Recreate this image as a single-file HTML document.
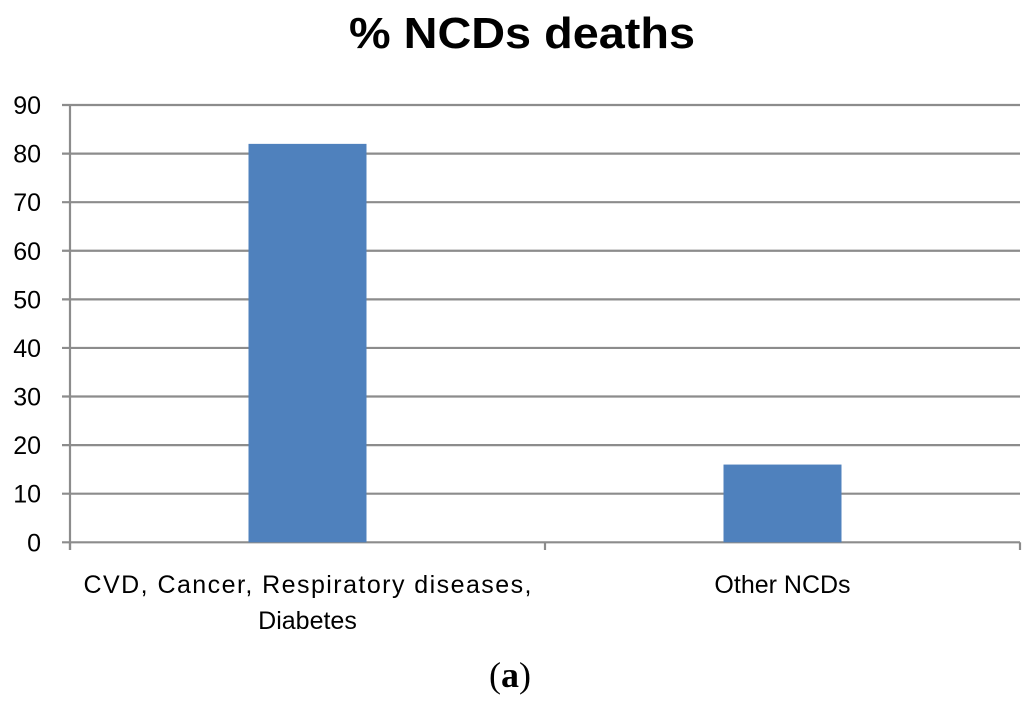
<!DOCTYPE html>
<html><head><meta charset="utf-8"><style>
body{margin:0;background:#fff;width:1024px;height:702px;overflow:hidden}
svg text{font-family:"Liberation Sans",sans-serif;fill:#000}
</style></head><body>
<svg width="1024" height="702">
<text x="522" y="48" text-anchor="middle" font-size="44" font-weight="bold" textLength="346" lengthAdjust="spacingAndGlyphs">% NCDs deaths</text>
<g id="grid"></g>
<g id="bars"></g>
<g id="axes"></g>
<text x="510" y="687" text-anchor="middle" font-size="36" style="font-family:'Liberation Serif',serif">(<tspan font-weight="bold">a</tspan>)</text>
</svg>
<script>
const categories=[["CVD, Cancer, Respiratory diseases,","Diabetes"],["Other NCDs"]];
const values=[82,16];
const yTicks=[0,10,20,30,40,50,60,70,80,90];
const ns="http://www.w3.org/2000/svg";
const x0=70,x1=1020,yBase=542.3,yTop=105;
const y=v=>yBase-(v/90)*(yBase-yTop);
const bandW=(x1-x0)/categories.length;
const xc=i=>x0+bandW*(i+0.5);
function mk(t,a,p){const e=document.createElementNS(ns,t);for(const k in a)e.setAttribute(k,a[k]);p.appendChild(e);return e;}
const grid=document.getElementById('grid'),bars=document.getElementById('bars'),axes=document.getElementById('axes');
yTicks.forEach(t=>{
 const l=mk('line',{x1:62,x2:x1,y1:y(t),y2:y(t),stroke:'#8c8c8c','stroke-width':2.2},grid);
 
 
 const tx=mk('text',{x:41,y:y(t)+9,'text-anchor':'end','font-size':25},axes);
 tx.textContent=t;
 
 
});
values.forEach((v,i)=>{
 const r=mk('rect',{x:xc(i)-59,y:y(v),width:118,height:yBase-y(v),fill:'#4f81bd'},bars);
 
 
});
const ax=mk('line',{x1:x0,x2:x0,y1:yTop-1,y2:550,stroke:'#8c8c8c','stroke-width':2.2},axes);


for(let i=0;i<=categories.length;i++){
 const tk=mk('line',{x1:x0+bandW*i,x2:x0+bandW*i,y1:yBase,y2:550,stroke:'#8c8c8c','stroke-width':2.2},axes);
 
 
}
categories.forEach((c,i)=>{
 c.forEach((line,j)=>{
  const t=mk('text',{x:xc(i),y:593+j*36,'text-anchor':'middle','font-size':25},axes);
  t.textContent=line;
  if(i===0&&j===0){t.setAttribute('textLength','448');t.setAttribute('lengthAdjust','spacing');}
  
  
 });
});
</script>
</body></html>
